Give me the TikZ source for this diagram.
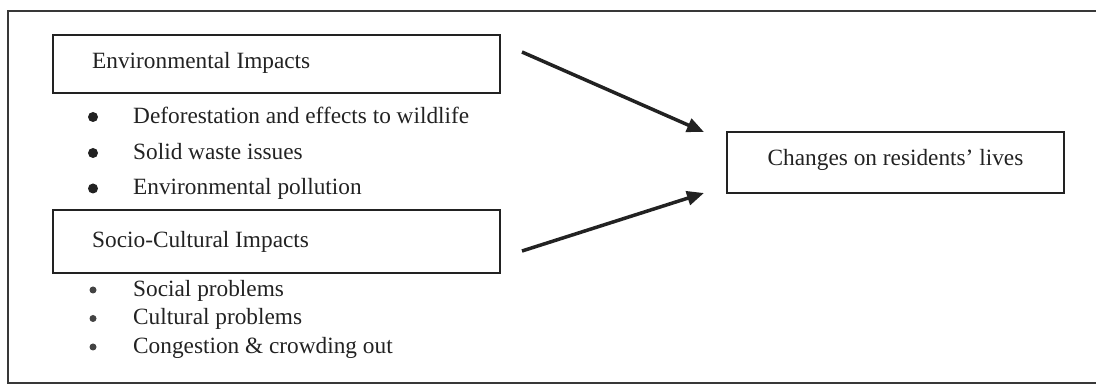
\documentclass[tikz,border=0pt]{standalone}
\usepackage{fontspec}
\setmainfont{Liberation Serif}
\usetikzlibrary{arrows.meta}
\definecolor{ink}{HTML}{222222}
\begin{document}
\begin{tikzpicture}[x=1pt,y=-1pt,
  txt/.style={anchor=base west,inner sep=0pt,font=\fontsize{23.3}{28}\selectfont,text=ink},
  ctxt/.style={anchor=base,inner sep=0pt,font=\fontsize{23.3}{28}\selectfont,text=ink},
  boxnode/.style={draw=ink,line width=1.8pt,inner sep=0pt},
  bigdot/.style={circle,fill=ink,inner sep=0pt,minimum size=10pt},
  smalldot/.style={circle,fill=ink!85,inner sep=0pt,minimum size=7pt},
  flow/.style={draw=ink,line width=3.5pt,-{Triangle[length=17pt,width=14pt]}}]
\useasboundingbox (0,0) rectangle (1096,387);
% outer frame (open on the right)
\draw[ink!90,line width=1.8pt] (1096,11) -- (8,11) -- (8,383) -- (1096,383);
% environmental box
\node[boxnode,minimum width=447pt,minimum height=58pt] (envbox) at (276.5,64) {};
\node[txt] (envtitle) at (92,68.5) {Environmental Impacts};
\node[bigdot] (eb1) at (93,117) {};
\node[bigdot] (eb2) at (93,153) {};
\node[bigdot] (eb3) at (93,188.5) {};
\node[txt] (e1) at (133,123.5) {Deforestation and effects to wildlife};
\node[txt] (e2) at (133,159.5) {Solid waste issues};
\node[txt] (e3) at (133,195) {Environmental pollution};
% socio-cultural box
\node[boxnode,minimum width=447pt,minimum height=63pt] (socbox) at (276.5,241.5) {};
\node[txt] (soctitle) at (92,248) {Socio-Cultural Impacts};
\node[smalldot] (sb1) at (93,290) {};
\node[smalldot] (sb2) at (93,318.5) {};
\node[smalldot] (sb3) at (93,347) {};
\node[txt] (s1) at (133,296.5) {Social problems};
\node[txt] (s2) at (133,325) {Cultural problems};
\node[txt] (s3) at (133,353.5) {Congestion \& crowding out};
% changes box
\node[boxnode,minimum width=337pt,minimum height=61pt] (chbox) at (895.5,162.5) {};
\node[ctxt] (chtitle) at (895.5,165.5) {Changes on residents’ lives};
% arrows
\coordinate (a1s) at (522,52);
\coordinate (a1e) at (704,132);
\coordinate (a2s) at (522,251);
\coordinate (a2e) at (704,193);
\draw[flow] (a1s) -- (a1e);
\draw[flow] (a2s) -- (a2e);
\end{tikzpicture}
\end{document}
